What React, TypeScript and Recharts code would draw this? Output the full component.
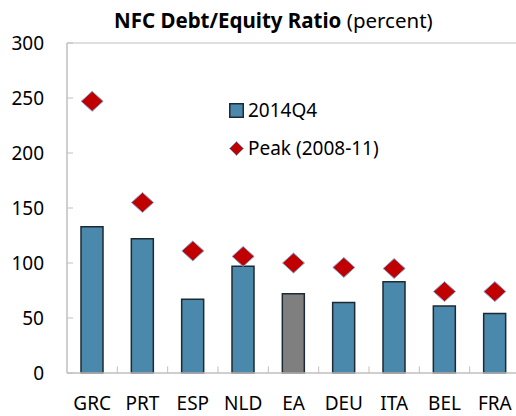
import { ComposedChart, Bar, Scatter, XAxis, YAxis, Cell, ReferenceLine, Legend } from "recharts"

const countries = ["GRC", "PRT", "ESP", "NLD", "EA", "DEU", "ITA", "BEL", "FRA"]
const latest = [133, 122, 67, 97, 72, 64, 83, 61, 54]
const peak = [247, 155, 111, 106, 100, 96, 95, 74, 74]
const yTicks = [0, 50, 100, 150, 200, 250, 300]

const data = countries.map((c, i) => ({ name: c, latest: latest[i], peak: peak[i] }))

const FONT = "'Noto Sans', 'Open Sans', sans-serif"
const BLUE = "#4a89ac"
const GREY = "#7f7f7f"
const RED = "#c00000"
const AXIS = "#bfbfbf"

const Diamond = (props: any) => {
  const { cx, cy } = props
  if (cx == null || cy == null) return null
  return (
    <polygon
      points={`${cx},${cy - 10} ${cx + 11},${cy} ${cx},${cy + 10} ${cx - 11},${cy}`}
      fill={RED}
      stroke="#7fa9d6"
      strokeWidth={1}
    />
  )
}

const LegendBox = () => (
  <div style={{ fontFamily: FONT, fontSize: 19, color: "#000", lineHeight: "38px" }}>
    <div style={{ display: "flex", alignItems: "center" }}>
      <svg width={15} height={15}>
        <rect x={0.75} y={0.75} width={13.5} height={13.5} fill={BLUE} stroke="#1e2a33" strokeWidth={1.5} />
      </svg>
      <span style={{ marginLeft: 4 }}>2014Q4</span>
    </div>
    <div style={{ display: "flex", alignItems: "center" }}>
      <svg width={15} height={15}>
        <polygon points="7.5,0.5 14.5,7.5 7.5,14.5 0.5,7.5" fill={RED} stroke="#7fa9d6" strokeWidth={1} />
      </svg>
      <span style={{ marginLeft: 4 }}>Peak (2008-11)</span>
    </div>
  </div>
)

export default function App() {
  return (
    <div
      style={{
        position: "absolute",
        left: 0,
        top: 0,
        width: 516,
        height: 416,
        overflow: "hidden",
        background: "#fff",
        fontFamily: FONT,
      }}
    >
      <div
        style={{
          position: "absolute",
          left: 114,
          top: 6,
          fontSize: 20.5,
          whiteSpace: "nowrap",
          color: "#000",
          zIndex: 2,
        }}
      >
        <b>NFC Debt/Equity Ratio</b> (percent)
      </div>
      <ComposedChart width={530} height={416} data={data} margin={{ top: 43, right: 10, bottom: 0, left: 0 }}>
        <XAxis
          dataKey="name"
          tickLine={false}
          tickSize={0}
          tickMargin={24}
          axisLine={{ stroke: AXIS, strokeWidth: 1.5 }}
          tick={{ fontSize: 19, fill: "#000", fontFamily: FONT }}
          height={43}
          interval={0}
        />
        <YAxis
          domain={[0, 300]}
          ticks={yTicks}
          width={67}
          tickSize={-6}
          tickMargin={29}
          tickLine={{ stroke: AXIS }}
          axisLine={{ stroke: AXIS, strokeWidth: 1.5 }}
          tick={{ fontSize: 19, fill: "#000", fontFamily: FONT }}
          interval={0}
        />
        <ReferenceLine y={300} stroke={AXIS} strokeWidth={1} />
        {countries.slice(1).map((c) => (
          <ReferenceLine
            key={c}
            position="start"
            segment={[
              { x: c, y: 0 },
              { x: c, y: 6 },
            ]}
            stroke={AXIS}
            strokeWidth={1}
          />
        ))}
        <Legend
          layout="vertical"
          align="center"
          verticalAlign="middle"
          content={<LegendBox />}
          wrapperStyle={{ left: 229, top: 91, width: "auto" }}
        />
        <Bar dataKey="latest" barSize={22} stroke="#1e2a33" strokeWidth={1.5} isAnimationActive={false}>
          {data.map((d) => (
            <Cell key={d.name} fill={d.name === "EA" ? GREY : BLUE} />
          ))}
        </Bar>
        <Scatter dataKey="peak" shape={<Diamond />} isAnimationActive={false} />
      </ComposedChart>
    </div>
  )
}
